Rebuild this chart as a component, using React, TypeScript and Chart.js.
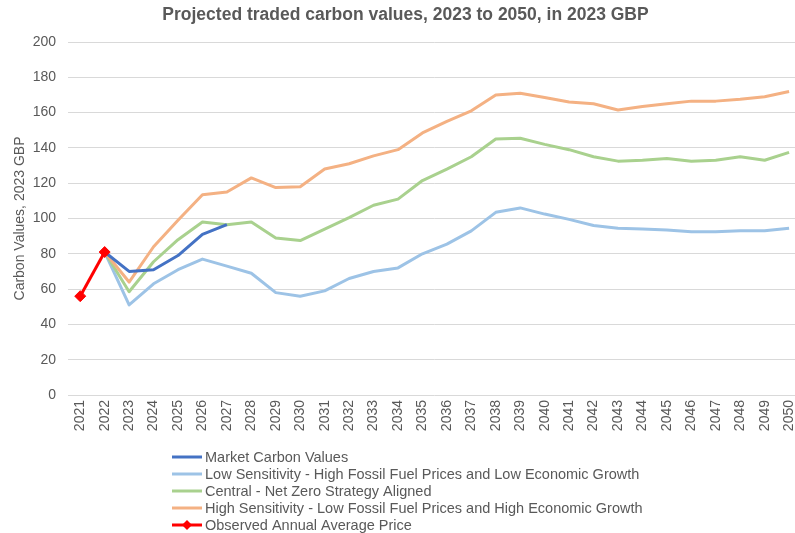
import { useEffect, useRef } from "react";
import { Chart, registerables } from "chart.js";

Chart.register(...registerables);

const years = [
  "2021", "2022", "2023", "2024", "2025", "2026", "2027", "2028", "2029", "2030",
  "2031", "2032", "2033", "2034", "2035", "2036", "2037", "2038", "2039", "2040",
  "2041", "2042", "2043", "2044", "2045", "2046", "2047", "2048", "2049", "2050",
];

const marketValues = [null, 81, 70, 71, 79, 91, 96.5];

const lowSensitivity = [
  null, 81, 51, 63, 71, 77, 73, 69, 58, 56,
  59, 66, 70, 72, 80, 85.5, 93, 103.5, 106, 102.5,
  99.5, 96, 94.5, 94, 93.5, 92.5, 92.5, 93, 93, 94.5,
];

const centralNetZero = [
  null, 81, 58.5, 75.5, 88, 98, 96.5, 98, 89, 87.5,
  94, 100.5, 107.5, 111, 121.5, 128, 135, 145, 145.5, 142,
  139, 135, 132.5, 133, 134, 132.5, 133, 135, 133, 137.5,
];

const highSensitivity = [
  null, 81, 64, 84, 99, 113.5, 115, 123, 117.5, 118,
  128, 131, 135.5, 139, 148.5, 155, 161, 170, 171, 168.5,
  166, 165, 161.5, 163.5, 165, 166.5, 166.5, 167.5, 169, 172,
];

const observedPrice = [56, 81];

const yTicks = [0, 20, 40, 60, 80, 100, 120, 140, 160, 180, 200];

const seriesNames = [
  "Market Carbon Values",
  "Low Sensitivity - High Fossil Fuel Prices and Low Economic Growth",
  "Central - Net Zero Strategy Aligned",
  "High Sensitivity - Low Fossil Fuel Prices and High Economic Growth",
  "Observed Annual Average Price",
];

const seriesColors = ["#4472C4", "#9DC3E6", "#A9D18E", "#F4B183", "#FF0000"];

const FONT = "'Liberation Sans', Arial, sans-serif";
const TEXT = "#595959";

// Stacked legend drawn under the axis, one entry per row.
const stackedLegend = {
  id: "stackedLegend",
  afterDraw(chart: Chart) {
    const ctx = chart.ctx;
    const lineX0 = 172;
    const lineX1 = 202;
    const textX = 205;
    const firstRow = 457;
    const rowGap = 17;
    ctx.save();
    ctx.font = `14.5px ${FONT}`;
    ctx.textBaseline = "middle";
    ctx.textAlign = "left";
    seriesNames.forEach((name, i) => {
      const y = firstRow + i * rowGap;
      ctx.strokeStyle = seriesColors[i];
      ctx.lineWidth = 3;
      ctx.lineCap = "butt";
      ctx.beginPath();
      ctx.moveTo(lineX0, y);
      ctx.lineTo(lineX1, y);
      ctx.stroke();
      if (i === 4) {
        const cx = (lineX0 + lineX1) / 2;
        ctx.fillStyle = seriesColors[i];
        ctx.beginPath();
        ctx.moveTo(cx, y - 5);
        ctx.lineTo(cx + 5, y);
        ctx.lineTo(cx, y + 5);
        ctx.lineTo(cx - 5, y);
        ctx.closePath();
        ctx.fill();
      }
      ctx.fillStyle = TEXT;
      ctx.fillText(name, textX, y + 1);
    });
    ctx.restore();
  },
};

export default function App() {
  const canvasRef = useRef<HTMLCanvasElement | null>(null);

  useEffect(() => {
    const canvas = canvasRef.current;
    if (!canvas) return;

    const line = (label: string, data: (number | null)[], color: string, order: number) => ({
      label,
      data,
      borderColor: color,
      backgroundColor: color,
      borderWidth: 3,
      pointRadius: 0,
      pointHoverRadius: 0,
      tension: 0,
      spanGaps: false,
      borderJoinStyle: "round" as const,
      order,
    });

    const chart = new Chart(canvas, {
      type: "line",
      data: {
        labels: years,
        datasets: [
          line(seriesNames[1], lowSensitivity, seriesColors[1], 4),
          line(seriesNames[2], centralNetZero, seriesColors[2], 3),
          line(seriesNames[3], highSensitivity, seriesColors[3], 2),
          line(seriesNames[0], marketValues, seriesColors[0], 1),
          {
            ...line(seriesNames[4], observedPrice, seriesColors[4], 0),
            pointStyle: "rectRot",
            pointRadius: 5.5,
            pointBackgroundColor: seriesColors[4],
            pointBorderColor: seriesColors[4],
            pointBorderWidth: 1,
          },
        ],
      },
      options: {
        responsive: false,
        animation: false,
        events: [],
        layout: { padding: { left: 0, right: 0, top: 0, bottom: 88 } },
        plugins: {
          legend: { display: false },
          tooltip: { enabled: false },
          title: {
            display: true,
            text: "Projected traded carbon values, 2023 to 2050, in 2023 GBP",
            color: TEXT,
            font: { family: FONT, size: 17.5, weight: "bold" },
            padding: { top: 4.5, bottom: 16.5 },
          },
        },
        scales: {
          x: {
            offset: true,
            grid: { display: false, drawTicks: false },
            border: { display: false },
            ticks: {
              color: TEXT,
              font: { family: FONT, size: 14 },
              minRotation: 90,
              maxRotation: 90,
              autoSkip: false,
              padding: 5,
            },
            afterFit: (scale: any) => {
              scale.height = 50;
            },
          },
          y: {
            min: 0,
            max: 200,
            afterBuildTicks: (scale: any) => {
              scale.ticks = yTicks.map((v) => ({ value: v }));
            },
            grid: { color: "#D9D9D9", lineWidth: 1, drawTicks: false },
            border: { display: false },
            ticks: {
              color: TEXT,
              font: { family: FONT, size: 14 },
              padding: 12,
            },
            title: {
              display: true,
              text: "Carbon Values, 2023 GBP",
              color: TEXT,
              font: { family: FONT, size: 14 },
              padding: { top: 12, bottom: 0 },
            },
            afterFit: (scale: any) => {
              scale.width = 68;
            },
          },
        },
      },
      plugins: [stackedLegend],
    });

    return () => chart.destroy();
  }, []);

  return (
    <div
      style={{
        position: "fixed",
        left: 0,
        top: 0,
        width: 795,
        height: 533,
        overflow: "hidden",
        background: "#FFFFFF",
      }}
    >
      <canvas ref={canvasRef} width={811} height={533} style={{ display: "block" }} />
    </div>
  );
}
